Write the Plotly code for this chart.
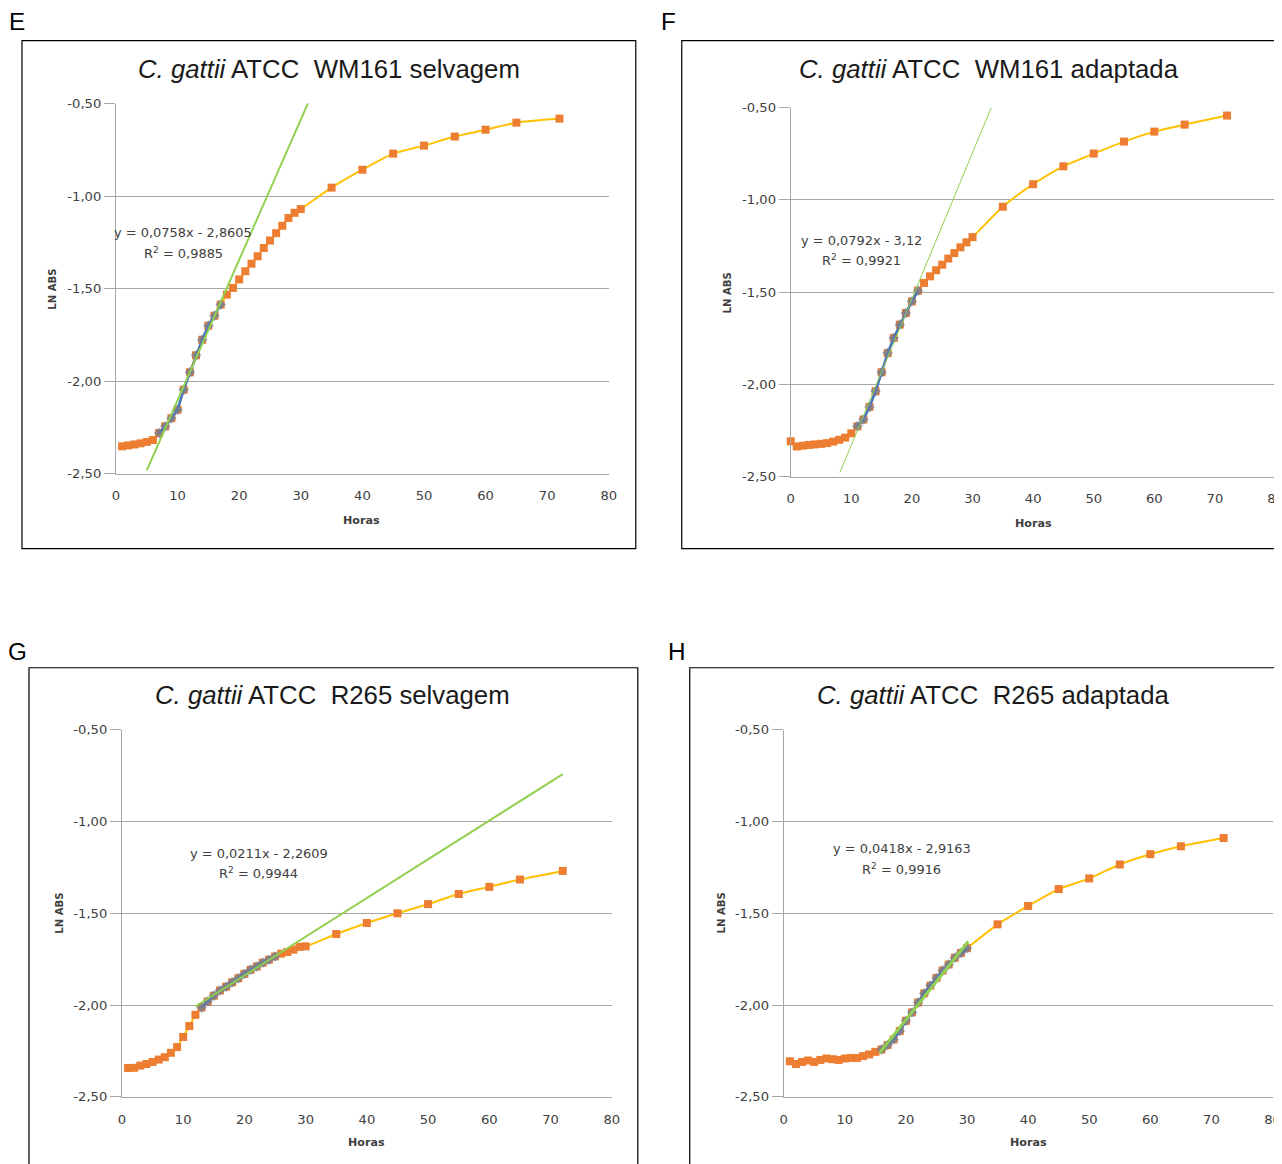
import plotly.graph_objects as go

W, H = 1282, 1164

# ---------------- data ----------------
hours_1 = list(range(1, 31)) + [35, 40, 45, 50, 55, 60, 65, 72]
hours_0 = list(range(0, 31)) + [35, 40, 45, 50, 55, 60, 65, 72]

# E: C. gattii ATCC WM161 selvagem
e_hours = hours_1
e_lnabs = [-2.352, -2.347, -2.342, -2.336, -2.328, -2.318, -2.280, -2.244, -2.200, -2.154,
           -2.046, -1.952, -1.860, -1.776, -1.700, -1.646, -1.586, -1.532, -1.496, -1.450,
           -1.406, -1.365, -1.325, -1.280, -1.240, -1.200, -1.160, -1.118, -1.090, -1.070,
           -0.954, -0.857, -0.770, -0.727, -0.678, -0.641, -0.603, -0.581]
e_fit_hours = list(range(7, 18))
e_slope, e_intercept, e_r2 = 0.0758, -2.8605, "0,9885"
e_trend_x = [5, 32]

# F: C. gattii ATCC WM161 adaptada
f_hours = hours_0
f_lnabs = [-2.308, -2.336, -2.332, -2.328, -2.325, -2.322, -2.318, -2.310, -2.300, -2.288,
           -2.265, -2.227, -2.190, -2.122, -2.037, -1.934, -1.830, -1.748, -1.676, -1.613,
           -1.550, -1.492, -1.450, -1.414, -1.381, -1.351, -1.318, -1.288, -1.257, -1.230,
           -1.202, -1.037, -0.915, -0.818, -0.749, -0.684, -0.630, -0.592, -0.543]
f_fit_hours = list(range(11, 22))
f_slope, f_intercept, f_r2 = 0.0792, -3.12, "0,9921"
f_trend_x = [8.1, 34]

# G: C. gattii ATCC R265 selvagem
g_hours = hours_1
g_lnabs = [-2.343, -2.342, -2.330, -2.321, -2.310, -2.297, -2.284, -2.260, -2.229, -2.174,
           -2.114, -2.053, -2.013, -1.980, -1.949, -1.921, -1.900, -1.876, -1.854, -1.830,
           -1.808, -1.790, -1.769, -1.753, -1.735, -1.720, -1.711, -1.698, -1.683, -1.680,
           -1.613, -1.553, -1.500, -1.450, -1.395, -1.356, -1.316, -1.269]
g_fit_hours = list(range(13, 26))
g_slope, g_intercept, g_r2 = 0.0211, -2.2609, "0,9944"
g_trend_x = [12, 72]

# H: C. gattii ATCC R265 adaptada
h_hours = hours_1
h_lnabs = [-2.306, -2.321, -2.310, -2.302, -2.310, -2.299, -2.291, -2.295, -2.299, -2.291,
           -2.288, -2.288, -2.278, -2.269, -2.255, -2.242, -2.218, -2.187, -2.141, -2.086,
           -2.040, -1.986, -1.936, -1.894, -1.852, -1.812, -1.779, -1.742, -1.716, -1.690,
           -1.560, -1.460, -1.368, -1.310, -1.234, -1.178, -1.135, -1.090]
h_fit_hours = list(range(16, 31))
h_slope, h_intercept, h_r2 = 0.0418, -2.9163, "0,9916"
h_trend_x = [15.7, 30.2]

x_ticks = [0, 10, 20, 30, 40, 50, 60, 70, 80]
y_ticks = [-2.5, -2.0, -1.5, -1.0, -0.5]
y_tick_labels = ["-2,50", "-2,00", "-1,50", "-1,00", "-0,50"]

# ---------------- layout helpers ----------------
# measured page offset / scale of the rendered page relative to the figure
OX, SX = 12.0, 0.991
OY, SY = 15.4, 0.9869
FS = 1 / 0.989  # font compensation


def px(x):
    return ((x - OX) / SX) / W


def py(y):
    return 1 - ((y - OY) / SY) / H


ORANGE = "#ED7D31"
GOLD = "#FFC000"
BLUE = "#4472C4"
GREEN = "#92D050"
GRID = "#A6A6A6"

panels = [
    dict(letter="E", hours=e_hours, vals=e_lnabs, fit=e_fit_hours, slope=e_slope, icpt=e_intercept,
         r2=e_r2, tx=e_trend_x, tw=2, strain="WM161 selvagem",
         plot=(116, 609, 104, 474), box=(22, 636, 41, 549), letter_pos=(17, 22),
         title_pos=(329, 69), eq_pos=(183, 233), r2_pos=(184, 253), xt_pos=(362, 521), yt_pos=(53, 289)),
    dict(letter="F", hours=f_hours, vals=f_lnabs, fit=f_fit_hours, slope=f_slope, icpt=f_intercept,
         r2=f_r2, tx=f_trend_x, tw=1, strain="WM161 adaptada",
         plot=(791, 1276, 108, 477), box=(682, 1300, 41, 549), letter_pos=(669, 22),
         title_pos=(989, 69), eq_pos=(862, 241), r2_pos=(862, 260), xt_pos=(1034, 524), yt_pos=(728, 293)),
    dict(letter="G", hours=g_hours, vals=g_lnabs, fit=g_fit_hours, slope=g_slope, icpt=g_intercept,
         r2=g_r2, tx=g_trend_x, tw=2, strain="R265 selvagem",
         plot=(122, 612, 730, 1097), box=(29, 638, 668, 1180), letter_pos=(18, 652),
         title_pos=(333, 695), eq_pos=(259, 854), r2_pos=(259, 873), xt_pos=(367, 1143), yt_pos=(60, 913)),
    dict(letter="H", hours=h_hours, vals=h_lnabs, fit=h_fit_hours, slope=h_slope, icpt=h_intercept,
         r2=h_r2, tx=h_trend_x, tw=3, strain="R265 adaptada",
         plot=(784, 1273, 730, 1097), box=(690, 1300, 668, 1180), letter_pos=(677, 652),
         title_pos=(994, 695), eq_pos=(902, 849), r2_pos=(902, 869), xt_pos=(1029, 1143), yt_pos=(722, 913)),
]

fig = go.Figure()
annotations = []
shapes = []
layout_axes = {}

TICKFONT = dict(family="DejaVu Sans", size=13 * FS, color="#404040")


def ann(text, pos, size, family="DejaVu Sans", color="#404040", angle=0):
    return dict(text=text, x=px(pos[0]), y=py(pos[1]), xref="paper", yref="paper",
                showarrow=False, xanchor="center", yanchor="middle", textangle=angle,
                font=dict(family=family, size=size * FS, color=color))


for i, p in enumerate(panels):
    n = "" if i == 0 else str(i + 1)
    xa, ya = "x" + n, "y" + n
    x0, x1, y0, y1 = p["plot"]

    fit_vals = [p["vals"][p["hours"].index(h)] for h in p["fit"]]
    trend_y = [p["slope"] * x + p["icpt"] for x in p["tx"]]

    fig.add_trace(go.Scatter(
        x=p["hours"], y=p["vals"], mode="lines+markers", xaxis=xa, yaxis=ya,
        line=dict(color=GOLD, width=2, shape="spline", smoothing=0.6),
        marker=dict(symbol="square", size=8, color=ORANGE),
        cliponaxis=False, showlegend=False, hoverinfo="skip"))
    fig.add_trace(go.Scatter(
        x=p["fit"], y=fit_vals, mode="lines+markers", xaxis=xa, yaxis=ya,
        line=dict(color=BLUE, width=2.5),
        marker=dict(symbol="diamond", size=8, color="rgba(112,128,150,0.75)"),
        showlegend=False, hoverinfo="skip"))
    fig.add_trace(go.Scatter(
        x=p["tx"], y=trend_y, mode="lines", xaxis=xa, yaxis=ya,
        line=dict(color=GREEN, width=p["tw"]),
        showlegend=False, hoverinfo="skip"))

    layout_axes["xaxis" + n] = dict(
        domain=[px(x0), px(x1)], anchor=ya, range=[0, 80], tickvals=x_ticks,
        showgrid=False, zeroline=False, showline=True, linecolor=GRID, linewidth=1,
        ticks="outside", ticklen=10, tickcolor="rgba(0,0,0,0)", tickfont=TICKFONT)
    layout_axes["yaxis" + n] = dict(
        domain=[py(y1), py(y0)], anchor=xa, range=[-2.5, -0.5],
        tickvals=y_ticks, ticktext=y_tick_labels,
        showgrid=True, gridcolor=GRID, gridwidth=1, zeroline=False,
        showline=True, linecolor=GRID, linewidth=1,
        ticks="outside", ticklen=11, tickcolor=GRID, tickfont=TICKFONT)

    bx0, bx1, by0, by1 = p["box"]
    shapes.append(dict(type="rect", xref="paper", yref="paper",
                       x0=px(bx0), x1=px(bx1), y0=py(by1), y1=py(by0),
                       line=dict(color="black", width=1.2), fillcolor="rgba(0,0,0,0)", layer="below"))

    annotations.append(ann(p["letter"], p["letter_pos"], 24, "Liberation Sans", "black"))
    annotations.append(ann("<i>C. gattii</i> ATCC\u00a0\u00a0" + p["strain"], p["title_pos"], 25.5,
                           "Liberation Sans", "#1a1a1a"))
    slope_txt = f"{p['slope']:.4f}".replace(".", ",")
    icpt_txt = f"{abs(p['icpt']):.4f}".rstrip("0").replace(".", ",")
    annotations.append(ann(f"y = {slope_txt}x - {icpt_txt}", p["eq_pos"], 12.8))
    annotations.append(ann(f"R<sup>2</sup> = {p['r2']}", p["r2_pos"], 12.8))
    annotations.append(ann("<b>Horas</b>", p["xt_pos"], 11))
    annotations.append(ann("<b>LN ABS</b>", p["yt_pos"], 10, angle=-90))

fig.update_layout(
    width=W, height=H, margin=dict(l=0, r=0, t=0, b=0),
    paper_bgcolor="white", plot_bgcolor="white",
    separators=",.", showlegend=False,
    annotations=annotations, shapes=shapes, **layout_axes)

fig.write_html("out.html")
